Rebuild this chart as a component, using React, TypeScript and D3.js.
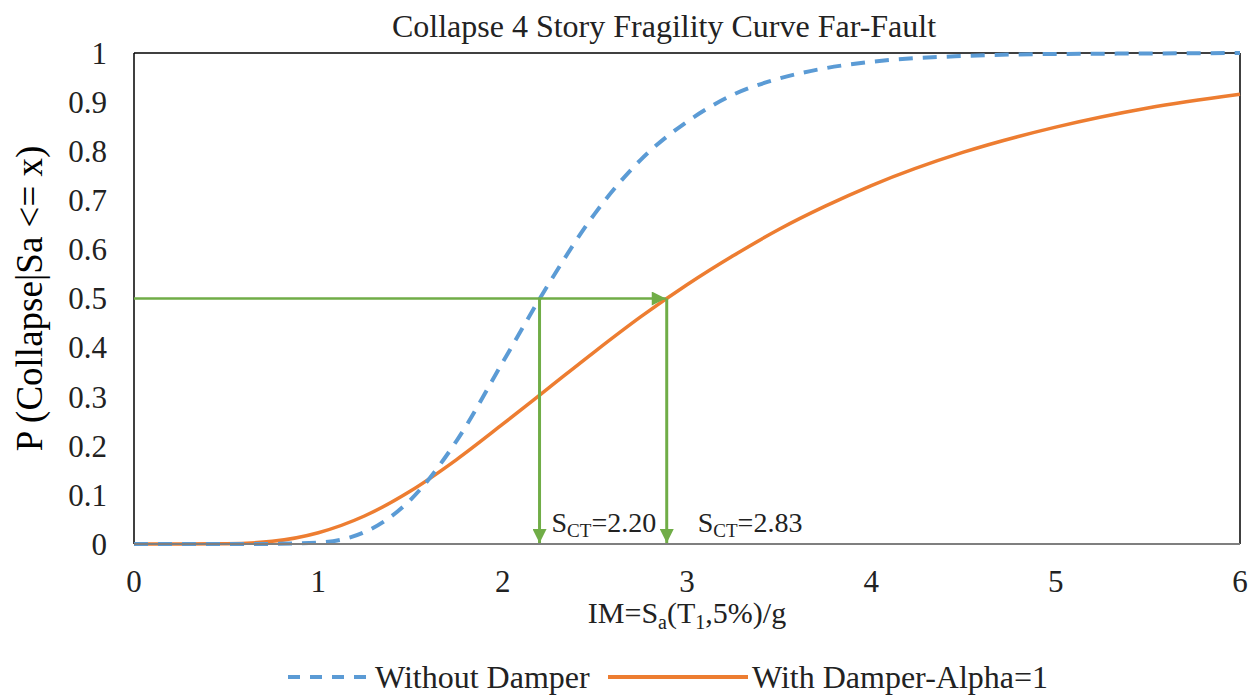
import React from 'react';
import * as d3 from 'd3';

// IM values (Sa/g) at which the curves were read
const imValues = [0, 0.25, 0.5, 0.75, 1, 1.25, 1.5, 1.75, 2, 2.25, 2.5, 2.75, 3, 3.25, 3.5, 3.75, 4, 4.5, 5, 5.5, 6];
const withoutDamper = [0, 0, 0, 0.0003, 0.003, 0.024, 0.09, 0.21, 0.37, 0.53, 0.673, 0.783, 0.86, 0.915, 0.948, 0.969, 0.982, 0.994, 0.998, 0.999, 1];
const withDamper = [0, 0, 0.0005, 0.0055, 0.023, 0.057, 0.108, 0.172, 0.244, 0.318, 0.392, 0.463, 0.528, 0.587, 0.641, 0.688, 0.73, 0.798, 0.849, 0.888, 0.916];
const xTicks = [0, 1, 2, 3, 4, 5, 6];
const yTicks = [0, 0.1, 0.2, 0.3, 0.4, 0.5, 0.6, 0.7, 0.8, 0.9, 1];
// where the green arrows sit in the picture, and what they are labelled
const arrowIM = [2.2, 2.89];
const medianLabels = ['2.20', '2.83'];

const W = 1258;
const H = 695;
const margin = { top: 53, right: 18, bottom: 151, left: 134 };
const FONT = "'Liberation Serif', 'Times New Roman', serif";
const BLUE = '#5B9BD5';
const ORANGE = '#ED7D31';
const GREEN = '#70AD47';
const txt = { fontFamily: FONT };

export default function App() {
  const innerW = W - margin.left - margin.right;
  const innerH = H - margin.top - margin.bottom;
  const x = d3.scaleLinear().domain([0, 6]).range([0, innerW]);
  const y = d3.scaleLinear().domain([0, 1]).range([innerH, 0]);

  const line = d3.line<number>()
    .x((_, i) => x(imValues[i]))
    .y(d => y(d))
    .curve(d3.curveMonotoneX);

  const y50 = y(0.5);

  return (
    <svg width={W} height={H} style={{ position: 'absolute', left: 0, top: 0, background: '#fff' }}>
      <defs>
        <marker id="arrowG" viewBox="0 0 10 10" refX="10" refY="5" markerWidth="15" markerHeight="14" orient="auto" markerUnits="userSpaceOnUse">
          <path d="M0,0 L10,5 L0,10 z" fill={GREEN} />
        </marker>
      </defs>
      <text x={664} y={37} textAnchor="middle" fontSize={32} fill="#222" style={txt}>Collapse 4 Story Fragility Curve Far-Fault</text>

      <g transform={`translate(${margin.left},${margin.top})`}>
        {/* plot frame */}
        <line x1={0} x2={innerW} y1={0} y2={0} stroke="#000" strokeWidth={1.5} />
        <line x1={0} x2={0} y1={0} y2={innerH} stroke="#000" strokeWidth={1.5} />
        <line x1={innerW} x2={innerW} y1={0} y2={innerH} stroke="#000" strokeWidth={1.5} />

        {/* curves */}
        <path d={line(withDamper) || ''} fill="none" stroke={ORANGE} strokeWidth={3.5} />
        <path d={line(withoutDamper) || ''} fill="none" stroke={BLUE} strokeWidth={4} strokeDasharray="14,10" />

        {/* x axis */}
        <line x1={0} x2={innerW} y1={innerH} y2={innerH} stroke="#7f7f7f" strokeWidth={2} />

        {/* green median markers */}
        <line x1={0} x2={x(arrowIM[1]) - 1} y1={y50} y2={y50} stroke={GREEN} strokeWidth={2.5} markerEnd="url(#arrowG)" />
        {arrowIM.map(m => (
          <line key={m} x1={x(m)} x2={x(m)} y1={y50} y2={innerH - 1} stroke={GREEN} strokeWidth={3} markerEnd="url(#arrowG)" />
        ))}
        {arrowIM.map((m, i) => (
          <text key={'l' + m} x={x(m) + (i === 0 ? 12 : 31)} y={innerH - 12} fontSize={28} fill="#222" style={txt}>
            S<tspan fontSize={19} dy={5}>CT</tspan><tspan dy={-5}>={medianLabels[i]}</tspan>
          </text>
        ))}

        {/* tick labels */}
        {yTicks.map(t => (
          <text key={t} x={-27} y={y(t)} dy="0.35em" textAnchor="end" fontSize={31} fill="#222" style={txt}>{t}</text>
        ))}
        {xTicks.map(t => (
          <text key={t} x={x(t)} y={innerH + 48} textAnchor="middle" fontSize={31} fill="#222" style={txt}>{t}</text>
        ))}
      </g>

      {/* axis titles */}
      <text transform={`translate(42,${margin.top + innerH / 2}) rotate(-90)`} textAnchor="middle" fontSize={37} fill="#000" style={txt}>P (Collapse|Sa &lt;= x)</text>
      <text x={margin.left + innerW / 2} y={623} textAnchor="middle" fontSize={30} fill="#222" style={txt}>
        IM=S<tspan fontSize={20} dy={6}>a</tspan><tspan dy={-6}>(T</tspan><tspan fontSize={20} dy={6}>1</tspan><tspan dy={-6}>,5%)/g</tspan>
      </text>

      {/* legend */}
      <line x1={288} x2={372} y1={677} y2={677} stroke={BLUE} strokeWidth={4} strokeDasharray="12,10" />
      <text x={375} y={688} fontSize={32} fill="#222" style={txt}>Without Damper</text>
      <line x1={608} x2={748} y1={677} y2={677} stroke={ORANGE} strokeWidth={4} />
      <text x={752} y={688} fontSize={32} fill="#222" style={txt}>With Damper-Alpha=1</text>
    </svg>
  );
}
